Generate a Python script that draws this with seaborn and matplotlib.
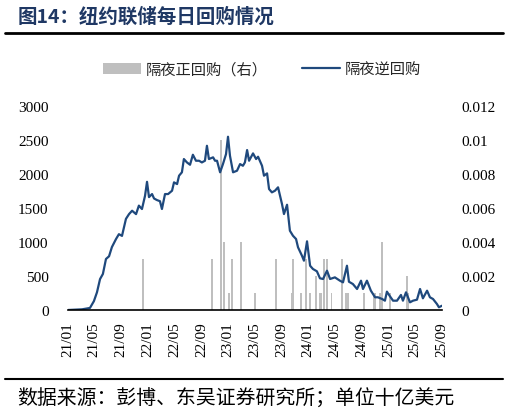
import matplotlib
matplotlib.use("Agg")
import matplotlib.pyplot as plt
import matplotlib.dates as mdates
from matplotlib.lines import Line2D
from matplotlib.patches import Patch
import seaborn as sns
import pandas as pd

# 隔夜逆回购（十亿美元），读图估算
rrp_dates = [
    "2021-01-01", "2021-02-02", "2021-03-06", "2021-04-11", "2021-04-29", "2021-05-13",
    "2021-05-27", "2021-06-09", "2021-06-23", "2021-07-07", "2021-07-20", "2021-08-08",
    "2021-08-21", "2021-09-04", "2021-09-22", "2021-10-06", "2021-10-20", "2021-11-07",
    "2021-11-20", "2021-12-04", "2021-12-18", "2021-12-27", "2022-01-05", "2022-01-19",
    "2022-01-28", "2022-02-10", "2022-02-24", "2022-03-05", "2022-03-19", "2022-04-02",
    "2022-04-20", "2022-04-29", "2022-05-13", "2022-05-22", "2022-06-04", "2022-06-13",
    "2022-06-27", "2022-07-11", "2022-07-24", "2022-08-07", "2022-08-21", "2022-09-03",
    "2022-09-17", "2022-09-26", "2022-10-05", "2022-10-24", "2022-11-02", "2022-11-11",
    "2022-11-25", "2022-12-08", "2022-12-22", "2022-12-31", "2023-01-09", "2023-01-23",
    "2023-02-10", "2023-02-24", "2023-03-09", "2023-03-18", "2023-03-28", "2023-04-06",
    "2023-04-24", "2023-05-08", "2023-05-17", "2023-06-04", "2023-06-13", "2023-06-27",
    "2023-07-06", "2023-07-19", "2023-08-02", "2023-08-16", "2023-09-03", "2023-09-12",
    "2023-09-26", "2023-10-09", "2023-10-23", "2023-11-06", "2023-11-15", "2023-12-03",
    "2023-12-12", "2023-12-26", "2024-01-09", "2024-01-22", "2024-02-09", "2024-02-23",
    "2024-03-08", "2024-03-26", "2024-04-09", "2024-05-01", "2024-05-24", "2024-06-07",
    "2024-06-25", "2024-07-04", "2024-07-22", "2024-08-10", "2024-08-28", "2024-09-06",
    "2024-09-24", "2024-10-12", "2024-10-31", "2024-11-13", "2024-12-02", "2024-12-15",
    "2024-12-24", "2025-01-07", "2025-01-21", "2025-02-08", "2025-02-26", "2025-03-07",
    "2025-03-21", "2025-04-08", "2025-04-22", "2025-05-10", "2025-05-24", "2025-06-06",
    "2025-06-25", "2025-07-08", "2025-07-22", "2025-08-09", "2025-08-18", "2025-09-01",
]
rrp_values = [
    0, 5, 10, 30, 130, 260,
    455, 530, 750, 790, 925, 1045,
    1115, 1090, 1340, 1410, 1460, 1410,
    1535, 1485, 1680, 1885, 1660, 1705,
    1640, 1617, 1600, 1485, 1705, 1705,
    1754, 1877, 1852, 1975, 2025, 2220,
    2170, 2136, 2283, 2195, 2195, 2170,
    2195, 2415, 2220, 2245, 2195, 2195,
    2025, 2146, 2293, 2548, 2268, 2025,
    2048, 2146, 2121, 2170, 2352, 2195,
    2303, 2220, 2254, 2121, 1975, 2009,
    1779, 1730, 1754, 1804, 1558, 1411,
    1548, 1166, 1092, 1044, 922, 798,
    725, 1010, 651, 603, 569, 466,
    456, 578, 456, 480, 431, 407,
    651, 416, 382, 309, 431, 309,
    431, 284, 187, 187, 162, 137,
    270, 201, 137, 137, 221, 137,
    260, 113, 137, 152, 309, 172,
    284, 187, 162, 88, 40, 63,
]

# 隔夜正回购（右轴）
rp_dates = [
    "2021-12-07", "2022-10-18", "2022-11-29", "2022-12-13", "2023-01-03", "2023-01-18",
    "2023-02-28", "2023-05-03", "2023-08-07", "2023-10-19", "2023-10-24", "2023-11-29",
    "2023-12-20", "2024-01-09", "2024-02-05", "2024-02-21", "2024-02-28", "2024-03-11",
    "2024-03-25", "2024-04-16", "2024-06-04", "2024-06-21", "2024-06-30", "2024-09-09",
    "2024-10-25", "2024-10-31", "2024-11-23", "2024-12-03", "2025-01-07", "2025-03-24",
    "2025-03-29",
]
rp_values = [
    0.003, 0.003, 0.010, 0.004, 0.001, 0.003,
    0.004, 0.001, 0.003, 0.001, 0.003, 0.001,
    0.003, 0.001, 0.002, 0.001, 0.001, 0.003,
    0.003, 0.001, 0.003, 0.001, 0.001, 0.001,
    0.001, 0.001, 0.001, 0.004, 0.001, 0.002,
    0.001,
]

rrp = pd.DataFrame({"date": pd.to_datetime(rrp_dates), "value": rrp_values})
rp = pd.DataFrame({"date": pd.to_datetime(rp_dates), "value": rp_values})

sns.set_style("white")
plt.rcParams["font.family"] = ["Noto Sans CJK SC", "DejaVu Sans"]

line_color = "#1f497d"
bar_color = "#bfbfbf"
num_font = "Liberation Serif"

fig = plt.figure(figsize=(5.09, 4.14), dpi=100)
ax = fig.add_axes([68 / 509, 1 - 311 / 414, 374 / 509, 204 / 414])
ax2 = ax.twinx()

ax2.bar(rp["date"], rp["value"], width=8, color=bar_color, linewidth=0)
sns.lineplot(data=rrp, x="date", y="value", ax=ax, color=line_color, linewidth=1.6)

ax.set_zorder(ax2.get_zorder() + 1)
ax.patch.set_visible(False)

ax.set_xlim(pd.Timestamp("2021-01-01"), pd.Timestamp("2025-09-01"))
ax.set_ylim(0, 3000)
ax2.set_ylim(0, 0.012)
ax.set_yticks(range(0, 3001, 500))
ax2.set_yticks([0, 0.002, 0.004, 0.006, 0.008, 0.01, 0.012])
ax2.set_yticklabels(["0", "0.002", "0.004", "0.006", "0.008", "0.01", "0.012"])

ax.xaxis.set_major_locator(mdates.MonthLocator(bymonth=[1, 5, 9]))
ax.xaxis.set_major_formatter(mdates.DateFormatter("%y/%m"))
ax.set_xlabel("")
ax.set_ylabel("")

for a in (ax, ax2):
    for side in ("top", "left", "right", "bottom"):
        a.spines[side].set_visible(False)
ax.spines["bottom"].set_visible(True)
ax.spines["bottom"].set_color("black")
ax.spines["bottom"].set_linewidth(1.2)

ax.tick_params(axis="x", direction="inout", length=8, width=1.2, color="black",
               pad=4, labelrotation=90, labelsize=11)
ax.tick_params(axis="y", length=0, pad=14, labelsize=11)
ax2.tick_params(axis="y", length=0, pad=14, labelsize=11)
for lab in ax.get_xticklabels() + ax.get_yticklabels() + ax2.get_yticklabels():
    lab.set_fontfamily(num_font)
    lab.set_color("black")

handles = [Patch(facecolor=bar_color, edgecolor="none"),
           Line2D([0], [0], color=line_color, linewidth=1.6)]
fig.legend(handles, ["隔夜正回购（右）", "隔夜逆回购"], loc="center",
           bbox_to_anchor=(262 / 509, 1 - 70 / 414), ncol=2, frameon=False,
           fontsize=11, handlelength=2.5, handletextpad=0.3, columnspacing=2.2)

fig.text(18 / 509, 1 - 17 / 414, "图14：纽约联储每日回购情况", fontsize=14,
         fontweight="bold", color="#1f3864", va="center", ha="left")
fig.add_artist(Line2D([5 / 509, 503 / 509], [1 - 34 / 414] * 2, color="black", linewidth=2))
fig.add_artist(Line2D([5 / 509, 503 / 509], [1 - 380 / 414] * 2, color="black", linewidth=1.5))
fig.text(17 / 509, 1 - 398 / 414, "数据来源：彭博、东吴证券研究所；单位十亿美元",
         fontsize=14.3, color="black", va="center", ha="left")

fig.savefig("out.png", dpi=100)
